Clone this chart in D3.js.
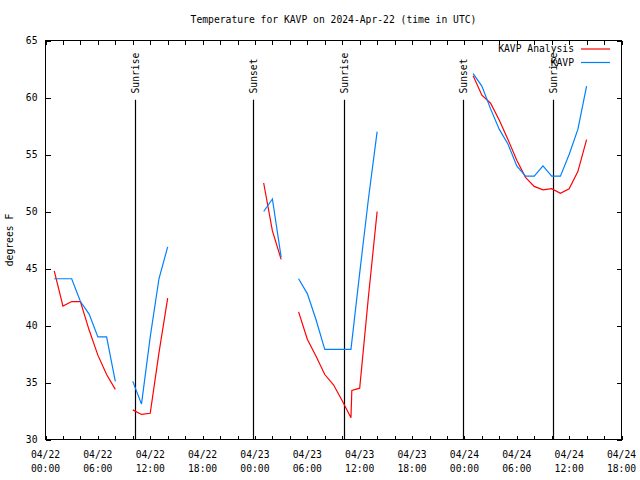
<!DOCTYPE html>
<html>
<head>
<meta charset="utf-8">
<script src="https://cdn.jsdelivr.net/npm/d3@7"></script>
<style>
  html, body { margin: 0; padding: 0; background: #fff; }
  text { font-family: "DejaVu Sans Mono", "Liberation Mono", monospace; font-size: 9.7px; fill: #000; }
</style>
</head>
<body>
<svg id="chart" width="640" height="480"></svg>
<script>
// ---- data (hours after 2024-04-22 00:00 UTC) ----
const title = "Temperature for KAVP on 2024-Apr-22 (time in UTC)";
const yLabel = "degrees F";
const seriesNames = ["KAVP Analysis", "KAVP"];
const seriesColors = ["#ff0000", "#0080ff"];

const analysisHours = [1,2,3,4,5,6,7,8,9, 10,11,12,13,14,15, 25,26,27,28,
  29,30,31,32,33,34,35,35.1,36,37,38,39,
  49,50,51,52,53,54,55,56,57,58,59,60,61,62];
const analysisTemps = [44.8,41.7,42.1,42.1,39.6,37.4,35.7,34.4,null, 32.6,32.2,32.3,37.6,42.4,null, 52.5,48.3,45.8,null,
  41.2,38.8,37.3,35.7,34.8,33.4,31.9,34.3,34.5,42.5,50.0,null,
  61.9,60.2,59.5,58.0,56.3,54.5,53.0,52.2,51.9,52.0,51.6,52.0,53.5,56.3];

const obsHours = [1,2,3,4,5,6,7,8,9, 10,11,12,13,14,15, 25,26,27,28,
  29,30,31,32,33,34,35,36,37,38,39,
  49,50,51,52,53,54,55,56,57,58,59,60,61,62];
const obsTemps = [44.1,44.1,44.1,42.1,41.0,39.0,39.0,35.1,null, 35.1,33.1,39.0,44.1,46.9,null, 50.0,51.1,46.0,null,
  44.1,42.8,40.5,37.9,37.9,37.9,37.9,44.6,51.1,57.0,null,
  62.1,61.0,59.0,57.2,55.9,54.0,53.1,53.1,54.0,53.1,53.1,55.0,57.2,61.0];

const sunHours = [10.25, 23.78, 34.22, 47.8, 58.17];
const sunLabels = ["Sunrise", "Sunset", "Sunrise", "Sunset", "Sunrise"];

const yTicks = [30,35,40,45,50,55,60,65];
const xLabelHours = [0,6,12,18,24,30,36,42,48,54,60,66];
const xMinorHours = d3.range(0, 67, 2);

// ---- layout ----
const base = Date.UTC(2024, 3, 22, 0, 0);
const toDate = h => new Date(base + h * 3600000);
const margin = {left: 45.5, right: 621.5, top: 40.5, bottom: 439.5};

const svg = d3.select("#chart");
const x = d3.scaleUtc().domain([toDate(0), toDate(66)]).range([margin.left, margin.right]);
const y = d3.scaleLinear().domain([30, 65]).range([margin.bottom, margin.top]);

// frame
svg.append("rect")
  .attr("x", margin.left).attr("y", margin.top)
  .attr("width", margin.right - margin.left).attr("height", margin.bottom - margin.top)
  .attr("fill", "none").attr("stroke", "#000").attr("stroke-width", 1)
  .attr("shape-rendering", "crispEdges");

// x ticks bottom & top
const fmtDay = d3.utcFormat("%m/%d"), fmtTime = d3.utcFormat("%H:%M");
const xAxisB = d3.axisBottom(x).tickValues(xMinorHours.map(toDate)).tickSize(-4).tickFormat("");
const xAxisT = d3.axisTop(x).tickValues(xMinorHours.map(toDate)).tickSize(-4).tickFormat("");
svg.append("g").attr("transform", `translate(0,${margin.bottom})`).call(xAxisB)
  .call(g => g.select(".domain").remove())
  .selectAll("line").attr("stroke", "#000").attr("shape-rendering", "crispEdges");
svg.append("g").attr("transform", `translate(0,${margin.top})`).call(xAxisT)
  .call(g => g.select(".domain").remove())
  .selectAll("line").attr("stroke", "#000").attr("shape-rendering", "crispEdges");

// x labels
const xl = svg.append("g");
xLabelHours.forEach(h => {
  const d = toDate(h);
  const t = xl.append("text").attr("x", x(d)).attr("text-anchor", "middle");
  t.append("tspan").attr("x", x(d)).attr("y", 458).text(fmtDay(d));
  t.append("tspan").attr("x", x(d)).attr("y", 472).text(fmtTime(d));
});

// y ticks left & right
const yAxisL = d3.axisLeft(y).tickValues(yTicks).tickSize(-5).tickPadding(8).tickFormat(d3.format("d"));
const yAxisR = d3.axisRight(y).tickValues(yTicks).tickSize(-5).tickFormat("");
svg.append("g").attr("transform", `translate(${margin.left},0)`).call(yAxisL)
  .call(g => g.select(".domain").remove())
  .call(g => g.selectAll("line").attr("stroke", "#000").attr("shape-rendering", "crispEdges"))
  .call(g => g.selectAll("text").attr("fill", "#000").attr("font-size", "9.7px")
     .attr("font-family", "DejaVu Sans Mono, monospace"));
svg.append("g").attr("transform", `translate(${margin.right},0)`).call(yAxisR)
  .call(g => g.select(".domain").remove())
  .selectAll("line").attr("stroke", "#000").attr("shape-rendering", "crispEdges");

// y label
svg.append("text")
  .attr("transform", `translate(13,${(margin.top + margin.bottom) / 2}) rotate(-90)`)
  .attr("text-anchor", "middle").text(yLabel);

// title
svg.append("text").attr("x", (margin.left + margin.right) / 2).attr("y", 23)
  .attr("text-anchor", "middle").text(title);

// sunrise/sunset lines
sunHours.forEach((h, i) => {
  const xx = Math.round(x(toDate(h))) + 0.5;
  svg.append("line").attr("x1", xx).attr("x2", xx)
    .attr("y1", y(30)).attr("y2", y(59.8))
    .attr("stroke", "#000").attr("stroke-width", 1.2);
  svg.append("text")
    .attr("transform", `translate(${xx},${y(60) - 4}) rotate(-90)`)
    .attr("dy", "0.35em").attr("text-anchor", "start").text(sunLabels[i]);
});

// series lines
function drawSeries(hours, temps, color) {
  const pts = hours.map((h, i) => ({t: toDate(h), v: temps[i]}));
  const line = d3.line().defined(d => d.v !== null).x(d => x(d.t)).y(d => y(d.v));
  svg.append("path").datum(pts).attr("d", line)
    .attr("fill", "none").attr("stroke", color).attr("stroke-width", 1.2);
}
drawSeries(analysisHours, analysisTemps, seriesColors[0]);
drawSeries(obsHours, obsTemps, seriesColors[1]);

// legend
seriesNames.forEach((name, i) => {
  const ly = 49 + i * 13.5;
  svg.append("text").attr("x", 574).attr("y", ly).attr("dy", "0.35em")
    .attr("text-anchor", "end").text(name);
  svg.append("line").attr("x1", 581).attr("x2", 610).attr("y1", ly).attr("y2", ly)
    .attr("stroke", seriesColors[i]).attr("stroke-width", 1.2);
});
</script>
</body>
</html>
